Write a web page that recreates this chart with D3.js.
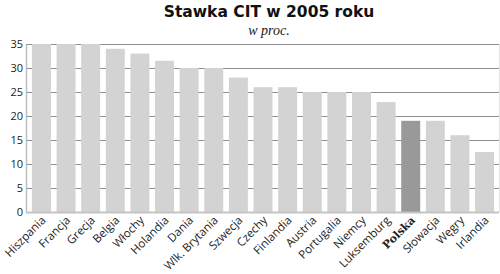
<!DOCTYPE html>
<html>
<head>
	<meta charset="utf-8">
	<title>Stawka CIT w 2005 roku</title>
	<script src="https://d3js.org/d3.v7.min.js"></script>
	<style>
		body { margin: 0; background: #fff; }
		svg { display: block; }
	</style>
</head>
<body>
	<svg id="chart" width="500" height="274"></svg>

	<script>
	// data
	var countries = ["Hiszpania", "Francja", "Grecja", "Belgia", "Włochy", "Holandia", "Dania",
		"Wlk. Brytania", "Szwecja", "Czechy", "Finlandia", "Austria", "Portugalia", "Niemcy",
		"Luksemburg", "Polska", "Słowacja", "Węgry", "Irlandia"];
	var rates = [35, 35, 35, 34, 33, 31.5, 30, 30, 28, 26, 26, 25, 25, 25, 22.9, 19, 19, 16, 12.5];
	var yTicks = [0, 5, 10, 15, 20, 25, 30, 35];
	var highlight = "Polska";

	var svg = d3.select("#chart");
	// plot edges (not "top": that name is taken by window.top)
	var plotL = 26, plotR = 499, plotT = 44, plotB = 212;

	var x = d3.scaleBand()
		.domain(countries)
		.range([plotL + 3, plotR - 2])
		.paddingInner(0.23)
		.paddingOuter(0.12);

	var y = d3.scaleLinear()
		.domain([0, 35])
		.range([plotB, plotT]);

	//---------------- title ----------------
	svg.append("text")
		.attr("x", 269)
		.attr("y", 17)
		.attr("text-anchor", "middle")
		.attr("font-family", "DejaVu Sans")
		.attr("font-weight", "bold")
		.attr("font-size", "15.5px")
		.attr("fill", "#111")
		.text("Stawka CIT w 2005 roku");

	svg.append("text")
		.attr("x", 269)
		.attr("y", 35)
		.attr("text-anchor", "middle")
		.attr("font-family", "Liberation Serif")
		.attr("font-style", "italic")
		.attr("font-size", "14px")
		.attr("fill", "#222")
		.text("w proc.");

	//---------------- grid ----------------
	svg.append("g")
		.selectAll("line")
		.data(yTicks.filter(function(d) { return d > 0; }))
		.enter().append("line")
		.attr("x1", plotL)
		.attr("x2", plotR)
		.attr("y1", function(d) { return y(d) + 0.5; })
		.attr("y2", function(d) { return y(d) + 0.5; })
		.attr("stroke", "#8f8f8f")
		.attr("stroke-width", 1);

	// right border
	svg.append("line")
		.attr("x1", plotR + 0.5).attr("x2", plotR + 0.5)
		.attr("y1", plotT).attr("y2", plotB)
		.attr("stroke", "#e2e2e2");

	//---------------- bars ----------------
	svg.append("g")
		.selectAll("rect")
		.data(countries)
		.enter().append("rect")
		.attr("x", function(d) { return x(d); })
		.attr("y", function(d, i) { return y(rates[i]); })
		.attr("width", x.bandwidth())
		.attr("height", function(d, i) { return plotB - y(rates[i]); })
		.attr("fill", function(d) { return d === highlight ? "#999999" : "#d3d3d3"; });

	//---------------- axes ----------------
	var yAxis = svg.append("g")
		.attr("transform", "translate(" + plotL + ",0)")
		.call(d3.axisLeft(y).tickValues(yTicks).tickSize(0).tickPadding(3));
	yAxis.select(".domain").attr("stroke", "#bdbdbd").attr("stroke-width", 1.5);
	yAxis.selectAll("text")
		.attr("font-family", "Open Sans")
		.attr("font-size", "11px")
		.attr("fill", "#222");

	// zero line
	svg.append("line")
		.attr("x1", plotL).attr("x2", plotR)
		.attr("y1", y(0) + 0.5).attr("y2", y(0) + 0.5)
		.attr("stroke", "#c4c4c4")
		.attr("stroke-width", 2);

	var xAxis = svg.append("g")
		.attr("transform", "translate(0," + plotB + ")")
		.call(d3.axisBottom(x).tickSize(0));
	xAxis.select(".domain").remove();
	xAxis.selectAll("text")
		.attr("font-family", function(d) { return d === highlight ? "DejaVu Serif" : "Open Sans"; })
		.attr("font-weight", function(d) { return d === highlight ? "bold" : "normal"; })
		.attr("font-size", function(d) { return d === highlight ? "11px" : "11.5px"; })
		.attr("fill", "#222")
		.attr("text-anchor", "end")
		.attr("dy", null)
		.attr("y", 0)
		.attr("transform", "translate(5,9) rotate(-45)");
	</script>
</body>
</html>
